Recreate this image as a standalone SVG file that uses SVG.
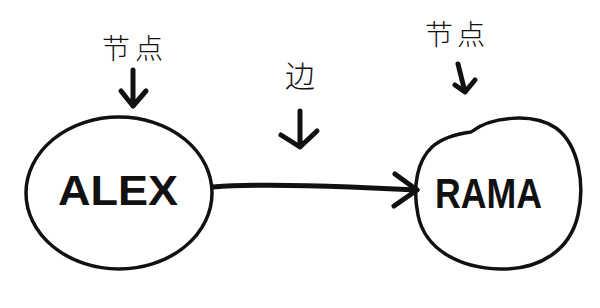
<svg xmlns="http://www.w3.org/2000/svg" width="600" height="308" viewBox="0 0 600 308">
  <style>
    .outline { fill: none; stroke: #111; stroke-width: 3.5; stroke-linejoin: round; }
    .ink { fill: none; stroke: #111; stroke-linecap: round; stroke-linejoin: round; }
    .name { font-family: "Liberation Sans", Arial, sans-serif; font-weight: bold; font-size: 42px; fill: #111; }
    .zh { font-family: "Noto Sans CJK SC", "Noto Sans", sans-serif; font-weight: 300; fill: #111; }
  </style>
  <rect width="600" height="308" fill="#fff"/>

  <g id="node-alex">
    <ellipse class="outline" cx="119" cy="193" rx="93" ry="76"/>
    <text class="name" x="58" y="205" textLength="120" lengthAdjust="spacingAndGlyphs">ALEX</text>
  </g>

  <g id="node-rama">
    <path class="outline" d="M 471 132 C 490 117, 532 112, 556 128 C 579 145, 585 185, 578 215 C 570 250, 540 270, 500 269 C 460 268, 425 250, 418 215 C 412 185, 418 160, 432 147 C 442 138, 456 134, 471 132 Z"/>
    <text class="name" x="435" y="208" textLength="107" lengthAdjust="spacingAndGlyphs">RAMA</text>
  </g>

  <g id="label-node-left">
    <text class="zh" x="102" y="59" font-size="28" textLength="61">节点</text>
    <path class="ink" stroke-width="5" d="M 133 70 L 133 106 M 121 91 L 133 106 L 146 91"/>
  </g>

  <g id="label-node-right">
    <text class="zh" x="425" y="45" font-size="28" textLength="60">节点</text>
    <path class="ink" stroke-width="5" d="M 458 64 Q 462 80 465 92 M 455 85 L 465 92 L 475 80"/>
  </g>

  <g id="label-edge">
    <text class="zh" x="285" y="87" font-size="30">边</text>
    <path class="ink" stroke-width="5" d="M 300 111 L 300 147 M 281 135 L 300 147 L 317 131"/>
  </g>

  <g id="connectors">
    <path class="ink" stroke-width="5" d="M 213 187 C 250 184, 300 185, 350 187 L 417 190"/>
    <path class="ink" stroke-width="5" d="M 395 174 L 417 190 L 394 206"/>
  </g>
</svg>
